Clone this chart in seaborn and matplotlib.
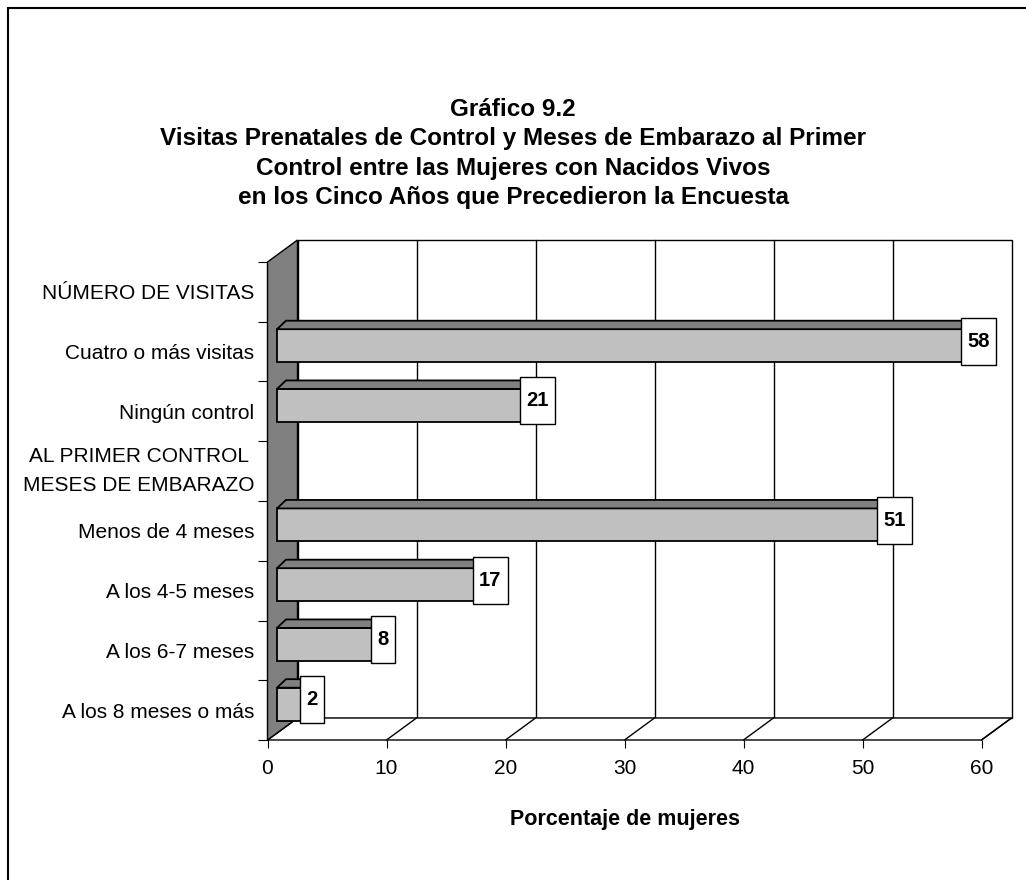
import numpy as np
import pandas as pd
import matplotlib
matplotlib.use('Agg')
import matplotlib.pyplot as plt
from matplotlib.patches import Polygon, Rectangle
import seaborn as sns

# Datos del gráfico
categorias = ['NÚMERO DE VISITAS', 'Cuatro o más visitas', 'Ningún control',
              'AL PRIMER CONTROL \nMESES DE EMBARAZO', 'Menos de 4 meses',
              'A los 4-5 meses', 'A los 6-7 meses', 'A los 8 meses o más']
porcentajes = [np.nan, 58, 21, np.nan, 51, 17, 8, 2]
ticks_x = [0, 10, 20, 30, 40, 50, 60]

titulo = ('Gráfico 9.2\n'
          'Visitas Prenatales de Control y Meses de Embarazo al Primer\n'
          'Control entre las Mujeres con Nacidos Vivos\n'
          'en los Cinco Años que Precedieron la Encuesta')

sns.set_theme(style='white')
plt.rcParams['font.family'] = ['Liberation Sans', 'DejaVu Sans']
plt.rcParams['text.color'] = 'black'

W, H = 1026, 880
fig = plt.figure(figsize=(W / 100, H / 100), dpi=100)
ax = fig.add_axes([267.5 / W, 1 - 740 / H, 714 / W, 478 / H])
ax.set_facecolor('none')

df = pd.DataFrame({'categoria': categorias, 'porcentaje': porcentajes}).dropna()
sns.barplot(data=df, x='porcentaje', y='categoria', order=categorias, orient='h',
            width=0.55, color='#C0C0C0', saturation=1, edgecolor='black',
            linewidth=1.3, zorder=3, ax=ax)

xmax = ticks_x[-1]
ax.set_xlim(0, xmax)
ax.set_ylim(len(categorias) - 0.5, -0.5)
for s in ax.spines.values():
    s.set_visible(False)

# pixeles -> unidades de datos
pos = ax.get_position()
ux = xmax / (pos.width * W)
uy = len(categorias) / (pos.height * H)
ytop, ybot = -0.5, len(categorias) - 0.5

# profundidad del "3D"
fdx, fdy = 30 * ux, 22 * uy

# pared del fondo
ax.add_patch(Rectangle((fdx, ytop - fdy), xmax, len(categorias), facecolor='white',
                       edgecolor='black', lw=1, zorder=0, clip_on=False))
for t in ticks_x[1:-1]:
    ax.plot([t + fdx, t + fdx], [ytop - fdy, ybot - fdy], color='black', lw=1,
            zorder=0.5, clip_on=False)

# piso
ax.add_patch(Polygon([(0, ybot), (xmax, ybot), (xmax + fdx, ybot - fdy), (fdx, ybot - fdy)],
                     closed=True, facecolor='white', edgecolor='black', lw=1,
                     zorder=0.6, clip_on=False))
for t in ticks_x:
    ax.plot([t, t + fdx], [ybot, ybot - fdy], color='black', lw=1, zorder=0.7, clip_on=False)

# pared izquierda
ax.add_patch(Polygon([(0, ytop), (fdx, ytop - fdy), (fdx, ybot - fdy), (0, ybot)],
                     closed=True, facecolor='#808080', edgecolor='black', lw=1,
                     zorder=1, clip_on=False))

# barras en 3D + etiquetas
bdx, bdy = 9.5 * ux, 6 * uy
tdx, tdy = 9 * ux, 8.5 * uy
for p in ax.patches:
    if not isinstance(p, Rectangle) or p.get_zorder() != 3:
        continue
    w = p.get_width()
    if np.isnan(w) or w == 0:
        continue
    idx = int(round(p.get_y() + p.get_height() / 2))
    p.set_x(p.get_x() + bdx)
    p.set_y(p.get_y() - bdy)
    x0 = p.get_x()
    x1 = x0 + w
    yt = p.get_y()
    ax.add_patch(Polygon([(x0, yt), (x1, yt), (x1 + tdx, yt - tdy), (x0 + tdx, yt - tdy)],
                         closed=True, facecolor='#808080', edgecolor='black', lw=1.3,
                         zorder=3, clip_on=False))
    valor = porcentajes[idx]
    texto = f'{valor:.0f}'
    bw = (24 if len(texto) == 1 else 35) * ux
    bh = 47 * uy
    cx = x1 + 11 * ux
    cy = idx - 10.5 * uy
    ax.add_patch(Rectangle((cx - bw / 2, cy - bh / 2), bw, bh, facecolor='white',
                           edgecolor='black', lw=1, zorder=4, clip_on=False))
    ax.text(cx, cy, texto, ha='center', va='center', fontsize=14.5,
            fontweight='bold', color='black', zorder=5, clip_on=False)

# ejes
ax.set_xticks(ticks_x)
ax.tick_params(axis='x', bottom=True, length=5.8, width=0.8, color='black',
               pad=8, labelsize=15, labelcolor='black')
ax.set_yticks(np.arange(-0.5, len(categorias), 1), minor=True)
ax.tick_params(axis='y', which='major', left=False, length=0, pad=9.5,
               labelsize=15, labelcolor='black')
ax.tick_params(axis='y', which='minor', left=True, length=7, width=0.8, color='black')
for lbl in ax.get_yticklabels():
    if '\n' in lbl.get_text():
        lbl.set_linespacing(1.7)
        lbl.set_verticalalignment('center')

ax.set_ylabel('')
ax.set_xlabel('Porcentaje de mujeres', fontsize=15.5, fontweight='bold',
              labelpad=22, color='black')

fig.text(0.5, 1 - 98 / H, titulo, ha='center', va='top', fontsize=17.5,
         fontweight='bold', linespacing=1.36, color='black')

# marco exterior
fig.add_artist(Rectangle((8 / W, -0.5), 2, 1.5 - 8 / H, transform=fig.transFigure,
                         fill=False, edgecolor='black', lw=1.5))

fig.savefig('out.png', dpi=100)
